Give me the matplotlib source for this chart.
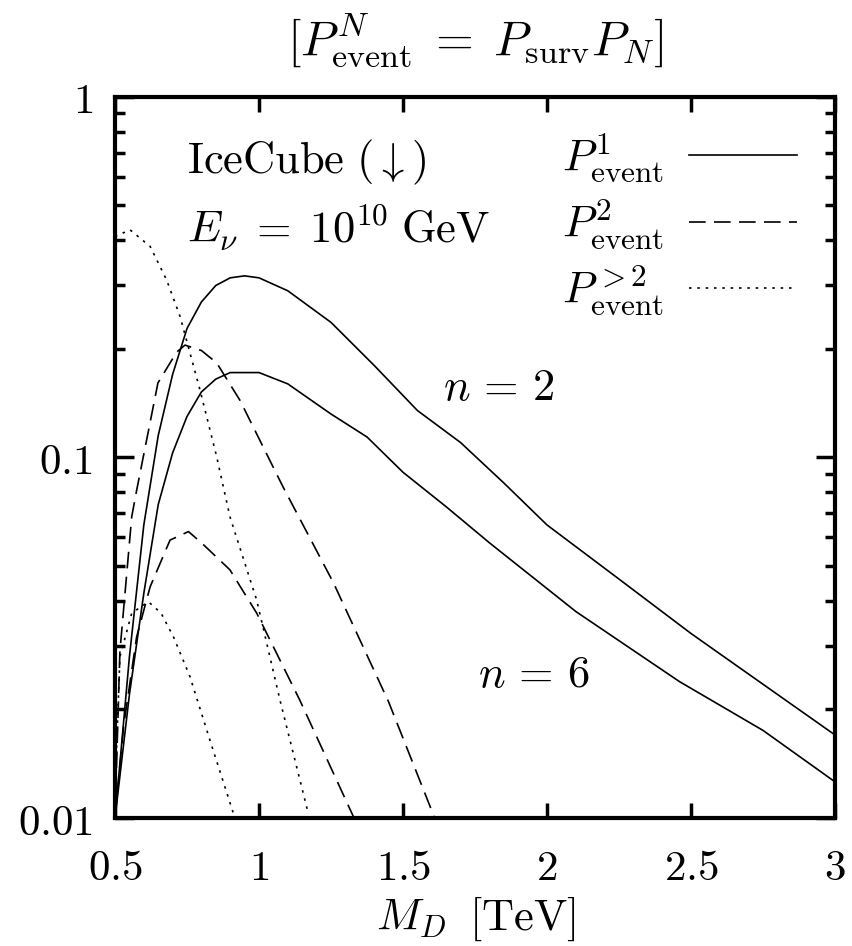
import matplotlib
matplotlib.use("Agg")
import matplotlib.pyplot as plt
from matplotlib.lines import Line2D

plt.rcParams['mathtext.fontset'] = 'cm'
plt.rcParams['font.family'] = 'serif'
plt.rcParams['font.serif'] = ['DejaVu Serif']

# P^1_event, solid
x_p1_n2 = [0.5, 0.55, 0.6, 0.65, 0.7, 0.75, 0.8, 0.85, 0.9, 0.95, 1.0, 1.1, 1.25, 1.4, 1.55, 1.7, 1.85, 2.0, 2.25, 2.5, 2.75, 3.0]
y_p1_n2 = [0.01, 0.028, 0.065, 0.115, 0.17, 0.228, 0.27, 0.3, 0.315, 0.319, 0.315, 0.29, 0.237, 0.18, 0.135, 0.11, 0.085, 0.065, 0.046, 0.0325, 0.0235, 0.017]
x_p1_n6 = [0.5, 0.55, 0.6, 0.65, 0.7, 0.75, 0.8, 0.85, 0.9, 1.0, 1.1, 1.25, 1.375, 1.5, 1.65, 1.8, 2.1, 2.46, 2.75, 3.0]
y_p1_n6 = [0.01, 0.022, 0.042, 0.074, 0.103, 0.13, 0.152, 0.165, 0.172, 0.172, 0.16, 0.132, 0.114, 0.091, 0.073, 0.058, 0.0374, 0.0239, 0.0175, 0.0126]

# P^2_event, dashed
x_p2_n2 = [0.5, 0.517, 0.558, 0.575, 0.649, 0.714, 0.743, 0.8, 0.853, 0.934, 1.083, 1.258, 1.45, 1.61]
y_p2_n2 = [0.01, 0.029, 0.0685, 0.081, 0.161, 0.196, 0.205, 0.198, 0.183, 0.144, 0.083, 0.045, 0.021, 0.01]
x_p2_n6 = [0.5, 0.53, 0.575, 0.622, 0.691, 0.755, 0.8, 0.899, 0.992, 1.142, 1.33]
y_p2_n6 = [0.01, 0.018, 0.0318, 0.0438, 0.059, 0.0623, 0.058, 0.0488, 0.037, 0.0212, 0.01]

# P^{>2}_event, dotted
x_p3_n2 = [0.5, 0.552, 0.622, 0.679, 0.726, 0.795, 0.853, 0.899, 0.992, 1.073, 1.171]
y_p3_n2 = [0.41, 0.428, 0.385, 0.311, 0.246, 0.154, 0.1005, 0.0685, 0.0402, 0.0212, 0.0103]
x_p3_n6 = [0.5, 0.517, 0.558, 0.616, 0.66, 0.703, 0.76, 0.83, 0.911]
y_p3_n6 = [0.012, 0.028, 0.037, 0.0398, 0.037, 0.0318, 0.0247, 0.0164, 0.0103]

x_ticks = [0.5, 1, 1.5, 2, 2.5, 3]
x_labels = ['0.5', '1', '1.5', '2', '2.5', '3']
y_ticks = [0.01, 0.1, 1]
y_labels = ['0.01', '0.1', '1']

dash = (0, (10, 5))
dot = (0, (1.5, 3.5))
lw = 1.2
fs = 32

fig = plt.figure(figsize=(8.52, 9.46), dpi=100)
ax = fig.add_axes([0.135, 0.1353, 0.845, 0.7622])

ax.plot(x_p1_n2, y_p1_n2, color='black', lw=lw)
ax.plot(x_p1_n6, y_p1_n6, color='black', lw=lw)
ax.plot(x_p2_n2, y_p2_n2, color='black', lw=lw, linestyle=dash)
ax.plot(x_p2_n6, y_p2_n6, color='black', lw=lw, linestyle=dash)
ax.plot(x_p3_n2, y_p3_n2, color='black', lw=lw, linestyle=dot)
ax.plot(x_p3_n6, y_p3_n6, color='black', lw=lw, linestyle=dot)

ax.set_yscale('log')
ax.set_xlim(0.5, 3)
ax.set_ylim(0.01, 1)
ax.set_xticks(x_ticks)
ax.set_xticklabels(['$' + s + '$' for s in x_labels])
ax.set_yticks(y_ticks)
ax.set_yticklabels(['$' + s + '$' for s in y_labels])
ax.tick_params(which='major', direction='in', top=True, right=True, length=14, width=2.5, labelsize=31, pad=16)
ax.tick_params(axis='x', which='major', length=11, pad=21)
ax.tick_params(which='minor', direction='in', right=True, length=7, width=2.5)
ax.tick_params(axis='x', which='minor', bottom=False, top=False)
for s in ax.spines.values():
    s.set_linewidth(3)

ax.set_xlabel(r'$M_D\;\;[\mathrm{TeV}]$', fontsize=fs)
ax.xaxis.set_label_coords(0.501, -0.1553)
ax.xaxis.label.set_verticalalignment('baseline')
ax.set_title(r'$[P^N_{\mathrm{event}}\;=\;P_{\mathrm{surv}} P_N]$', fontsize=35, pad=30)

ax.text(0.10, 0.8946, r'$\mathrm{IceCube}\ (\downarrow)$', transform=ax.transAxes, fontsize=fs, ha='left', va='baseline')
ax.text(0.10, 0.7975, r'$E_\nu\;=\;10^{10}\;\mathrm{GeV}$', transform=ax.transAxes, fontsize=fs, ha='left', va='baseline')
ax.text(0.4556, 0.5797, r'$n\,=\,2$', transform=ax.transAxes, fontsize=fs, ha='left', va='baseline')
ax.text(0.504, 0.1817, r'$n\,=\,6$', transform=ax.transAxes, fontsize=fs, ha='left', va='baseline')

handles = [Line2D([], [], color='black', lw=lw),
           Line2D([], [], color='black', lw=lw, linestyle=dash),
           Line2D([], [], color='black', lw=lw, linestyle=dot)]
labels = [r'$P^1_{\mathrm{event}}$', r'$P^2_{\mathrm{event}}$', r'$P^{>2}_{\mathrm{event}}$']
ax.legend(handles, labels, loc='upper right', bbox_to_anchor=(1.003, 1.008), frameon=False,
          markerfirst=False, fontsize=fs, handlelength=2.43, labelspacing=0.3, handletextpad=0.57)

fig.savefig('out.png', dpi=100)
